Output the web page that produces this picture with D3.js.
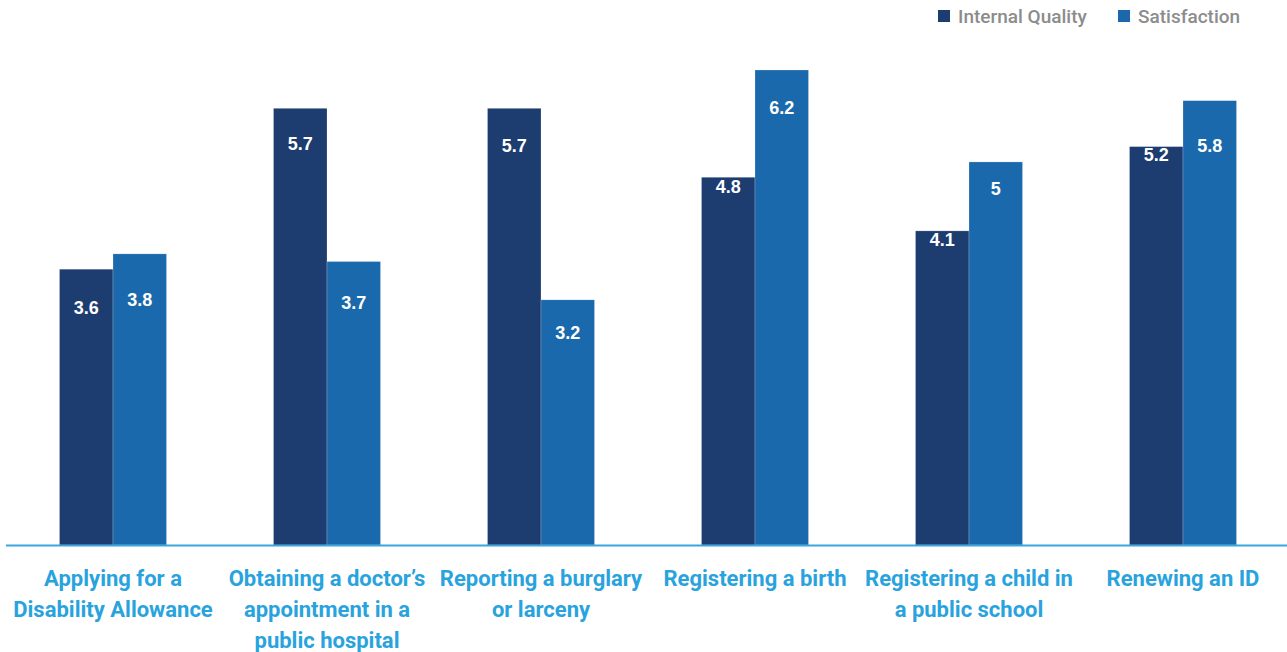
<!DOCTYPE html>
<html><head><meta charset="utf-8">
<script src="https://cdn.jsdelivr.net/npm/d3@7"></script>
<style>
html,body{margin:0;padding:0;background:#fff;}
svg{display:block;}
</style></head>
<body>
<svg id="chart" width="1287" height="652"></svg>
<script>
const categories = [
  ["Applying for a", "Disability Allowance"],
  ["Obtaining a doctor\u2019s", "appointment in a", "public hospital"],
  ["Reporting a burglary", "or larceny"],
  ["Registering a birth"],
  ["Registering a child in", "a public school"],
  ["Renewing an ID"]
];
const seriesNames = ["Internal Quality", "Satisfaction"];
const internalQuality = [3.6, 5.7, 5.7, 4.8, 4.1, 5.2];
const satisfaction = [3.8, 3.7, 3.2, 6.2, 5.0, 5.8];
const valueLabels = [["3.6","5.7","5.7","4.8","4.1","5.2"],["3.8","3.7","3.2","6.2","5","5.8"]];
// label vertical offsets (px) from bar top, styling only
const labelDy = [[39,35,37,9,9,8],[46,41,33,38,27,45]];
const colors = ["#1d3c70", "#1b69ad"];

const svg = d3.select("#chart");
const W = 1287, baseY = 545;
const x0 = d3.scaleBand().domain(d3.range(categories.length)).range([6, 1290]).paddingInner(0.5).paddingOuter(0.25);
const x1 = d3.scaleBand().domain([0,1]).range([0, x0.bandwidth()]);
const y = d3.scaleLinear().domain([0, 6.2]).range([baseY, 70]);
const series = [internalQuality, satisfaction];

const g = svg.append("g");
series.forEach((vals, si) => {
  g.selectAll(".bar"+si).data(vals).enter().append("rect")
    .attr("x", (d,i) => x0(i) + x1(si))
    .attr("y", d => y(d))
    .attr("width", x1.bandwidth())
    .attr("height", d => baseY - y(d))
    .attr("fill", colors[si])
    .attr("stroke", "rgba(255,255,255,0.35)")
    .attr("stroke-width", 0.6);
  g.selectAll(".lbl"+si).data(vals).enter().append("text")
    .attr("x", (d,i) => x0(i) + x1(si) + x1.bandwidth()/2)
    .attr("y", (d,i) => y(d) + labelDy[si][i])
    .attr("dy", "0.35em")
    .attr("text-anchor", "middle")
    .attr("fill", "#fff")
    .attr("font-family", "Liberation Sans, Arial, sans-serif")
    .attr("font-weight", "bold")
    .attr("font-size", 18)
    .text((d,i) => valueLabels[si][i]);
});

// axis line
svg.append("line").attr("x1", 6).attr("x2", W).attr("y1", baseY+0.5).attr("y2", baseY+0.5)
  .attr("stroke", "#3aa6dc").attr("stroke-width", 2);

// category labels
categories.forEach((lines, i) => {
  const t = svg.append("text")
    .attr("x", x0(i) + x0.bandwidth()/2)
    .attr("y", 578)
    .attr("text-anchor", "middle")
    .attr("fill", "#29a3dd")
    .attr("font-family", "Roboto, sans-serif")
    .attr("font-weight", "bold")
    .attr("font-size", 22);
  lines.forEach((ln, j) => {
    t.append("tspan").attr("x", x0(i) + x0.bandwidth()/2).attr("y", 578 + j*31).attr("dy", "0.35em").text(ln);
  });
});

// legend
const legX = [938, 1118];
seriesNames.forEach((n, i) => {
  svg.append("rect").attr("x", legX[i]).attr("y", 10).attr("width", 12).attr("height", 12).attr("fill", colors[i]);
  svg.append("text").attr("x", legX[i] + 20).attr("y", 16).attr("dy", "0.35em")
    .attr("fill", "#8c8c8c").attr("font-family", "Roboto, sans-serif").attr("font-weight", 500)
    .attr("font-size", 19).text(n);
});
</script>
</body></html>
